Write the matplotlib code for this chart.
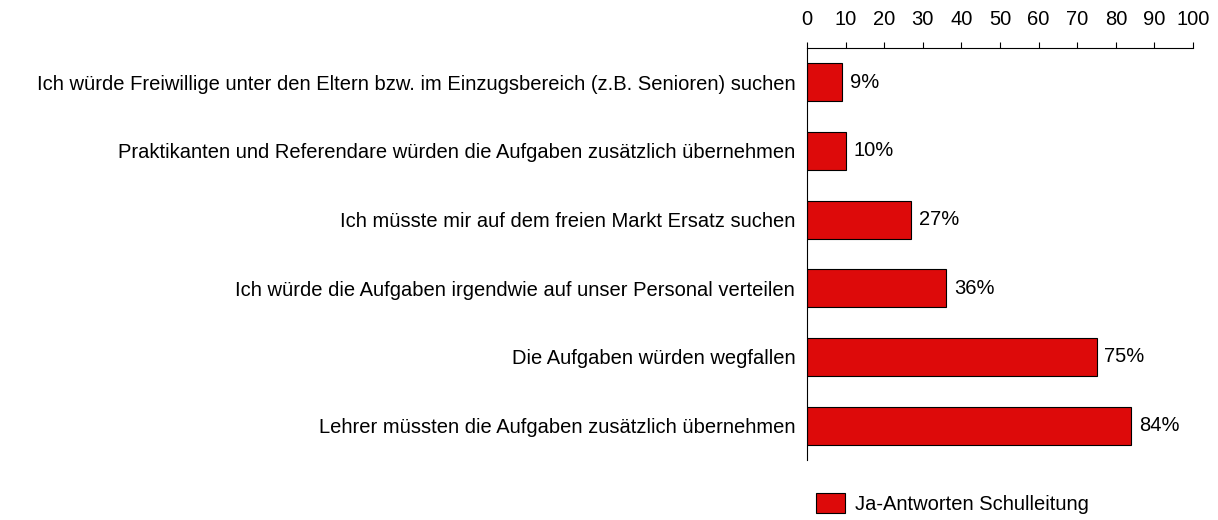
import matplotlib
matplotlib.use("Agg")
from matplotlib import pyplot as plt
from matplotlib.patches import Patch

plt.rcParams['font.family'] = ['Liberation Sans', 'DejaVu Sans']

categories = [
    "Ich würde Freiwillige unter den Eltern bzw. im Einzugsbereich (z.B. Senioren) suchen",
    "Praktikanten und Referendare würden die Aufgaben zusätzlich übernehmen",
    "Ich müsste mir auf dem freien Markt Ersatz suchen",
    "Ich würde die Aufgaben irgendwie auf unser Personal verteilen",
    "Die Aufgaben würden wegfallen",
    "Lehrer müssten die Aufgaben zusätzlich übernehmen",
]
values = [9, 10, 27, 36, 75, 84]
series_name = "Ja-Antworten Schulleitung"
ticks = list(range(0, 101, 10))

fs = 14.5
fig = plt.figure(figsize=(12.18, 5.2), dpi=100)
ax = fig.add_axes([0.6626, 0.1154, 0.3169, 0.7923])

pos = list(range(len(categories)))
ax.barh(pos, values, height=0.55, color="#DD0A0A", edgecolor="black", linewidth=0.8)
for p, v in zip(pos, values):
    ax.text(v + 2, p, f"{v}%", va="center", ha="left", fontsize=fs)

ax.set_xlim(0, 100)
ax.set_ylim(len(categories) - 0.5, -0.5)
ax.set_yticks(pos)
ax.set_yticklabels(categories, fontsize=fs)
ax.tick_params(axis="y", length=0, pad=8.5)
ax.xaxis.tick_top()
ax.set_xticks(ticks)
ax.tick_params(axis="x", labelsize=fs, length=4.5, width=0.8, pad=9.5, direction="out")

for s in ["right", "bottom"]:
    ax.spines[s].set_visible(False)
ax.spines["top"].set_linewidth(0.8)
ax.spines["left"].set_linewidth(0.8)

handle = Patch(facecolor="#DD0A0A", edgecolor="black", linewidth=0.8, label=series_name)
fig.legend(handles=[handle], loc="center left", bbox_to_anchor=(0.663, 0.031),
           frameon=False, fontsize=fs, handlelength=1.45, handleheight=1.15,
           handletextpad=0.5, borderaxespad=0)

fig.savefig("out.png", dpi=100)
